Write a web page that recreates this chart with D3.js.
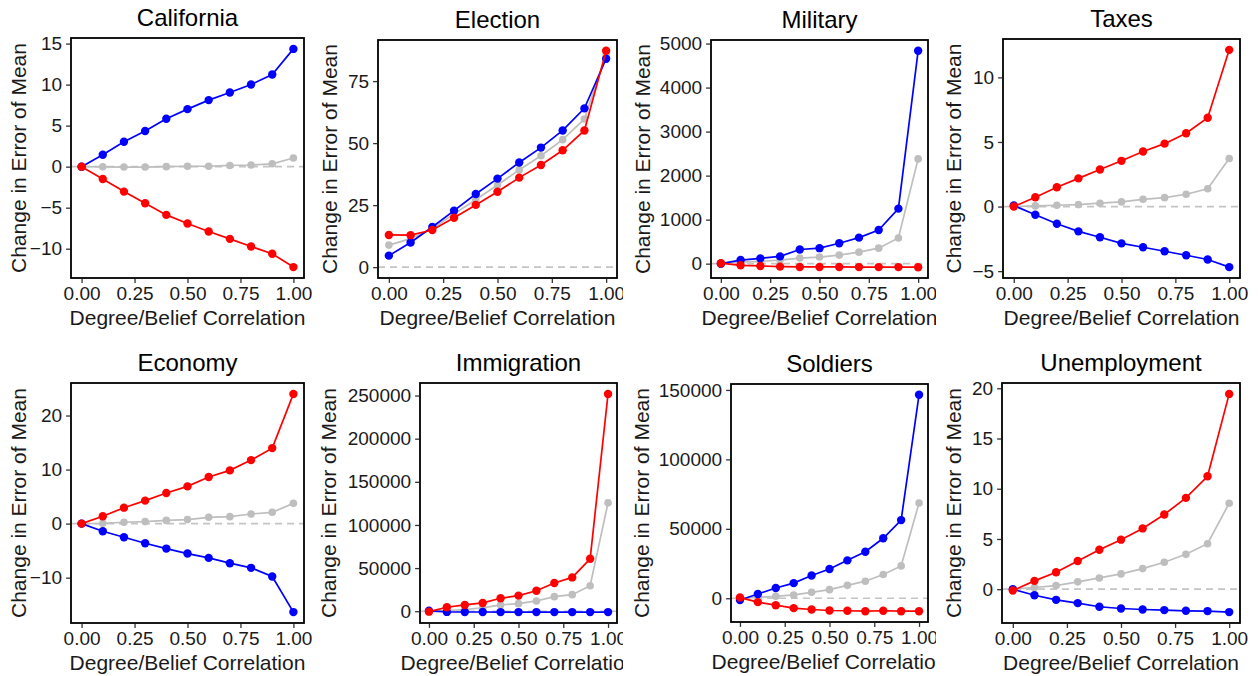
<!DOCTYPE html>
<html>
<head>
<meta charset="utf-8">
<script src="https://cdn.jsdelivr.net/npm/d3@7"></script>
<style>
  html, body { margin: 0; padding: 0; background: #fff; }
  svg { display: block; font-family: "Liberation Sans", Arial, sans-serif; }
</style>
</head>
<body>
<svg id="chart" width="1258" height="676"></svg>
<script>
// ---------- data ----------
const xValues = [0, 0.1, 0.2, 0.3, 0.4, 0.5, 0.6, 0.7, 0.8, 0.9, 1.0];
const xTicks = [0, 0.25, 0.5, 0.75, 1.0];
const topics = ["California", "Election", "Military", "Taxes", "Economy", "Immigration", "Soldiers", "Unemployment"];
const xTitle = "Degree/Belief Correlation";
const yTitle = "Change in Error of Mean";

const caBlue = [0, 1.46, 3.04, 4.34, 5.84, 7.01, 8.11, 9.04, 10.01, 11.23, 14.35];
const caRed  = [0, -1.5, -3.04, -4.46, -5.88, -6.93, -7.9, -8.8, -9.73, -10.62, -12.24];
const caGray = [0, -0.02, -0.05, -0.05, 0, 0.05, 0.05, 0.15, 0.2, 0.35, 1.05];
const caTicks = [-10, -5, 0, 5, 10, 15];

const elBlue = [4.65, 9.96, 16.2, 22.8, 29.5, 35.7, 42.2, 48.2, 55.1, 64.0, 84.0];
const elRed  = [13.0, 12.9, 15.0, 19.9, 25.1, 30.4, 36.1, 41.2, 47.1, 55.1, 87.2];
const elGray = [8.9, 11.5, 15.5, 21.5, 27.2, 33.1, 39.2, 44.9, 51.4, 59.7, 85.6];
const elTicks = [0, 25, 50, 75];

const miBlue = [0, 82, 120, 165, 322, 352, 464, 591, 763, 1250, 4835];
const miRed  = [10, -37, -52, -67, -75, -75, -75, -78, -78, -78, -80];
const miGray = [0, 37, 52, 82, 127, 150, 195, 262, 352, 584, 2380];
const miTicks = [0, 1000, 2000, 3000, 4000, 5000];

const taBlue = [0.08, -0.64, -1.33, -1.92, -2.38, -2.85, -3.15, -3.46, -3.77, -4.1, -4.69];
const taRed  = [0, 0.72, 1.49, 2.18, 2.87, 3.54, 4.26, 4.87, 5.67, 6.87, 12.13];
const taGray = [0, 0.05, 0.1, 0.15, 0.26, 0.36, 0.56, 0.69, 0.95, 1.38, 3.72];
const taTicks = [-5, 0, 5, 10];

const ecBlue = [0, -1.42, -2.52, -3.63, -4.62, -5.54, -6.34, -7.32, -8.18, -9.78, -16.37];
const ecRed  = [0, 1.35, 2.95, 4.25, 5.66, 6.89, 8.62, 9.85, 11.75, 13.97, 24.0];
const ecGray = [0, 0.06, 0.25, 0.37, 0.6, 0.74, 1.17, 1.29, 1.78, 2.09, 3.75];
const ecTicks = [-10, 0, 10, 20];

const imBlue = [500, -800, -900, -900, -1000, -1000, -1000, -1000, -1000, -1000, -1000];
const imRed  = [-500, 4600, 7300, 9600, 15000, 18100, 23800, 32700, 39200, 60800, 251900];
const imGray = [0, 800, 2000, 3800, 7300, 8800, 11900, 16900, 19200, 29600, 125800];
const imTicks = [0, 50000, 100000, 150000, 200000, 250000];

const soBlue = [-1200, 3100, 7400, 10900, 16400, 21100, 27300, 33500, 43200, 56300, 146500];
const soRed  = [500, -2800, -5000, -7100, -8100, -8800, -9000, -9300, -9000, -9300, -9300];
const soGray = [0, 700, 1400, 2400, 4300, 6200, 9300, 12300, 17100, 23300, 68600];
const soTicks = [0, 50000, 100000, 150000];

const unBlue = [0, -0.6, -1.06, -1.39, -1.75, -1.92, -2.02, -2.08, -2.15, -2.18, -2.28];
const unRed  = [-0.13, 0.83, 1.69, 2.81, 3.93, 4.93, 6.05, 7.44, 9.09, 11.24, 19.44];
const unGray = [0, 0.17, 0.36, 0.73, 1.12, 1.52, 2.05, 2.68, 3.47, 4.53, 8.56];
const unTicks = [0, 5, 10, 15, 20];

const blueSeries = [caBlue, elBlue, miBlue, taBlue, ecBlue, imBlue, soBlue, unBlue];
const redSeries  = [caRed, elRed, miRed, taRed, ecRed, imRed, soRed, unRed];
const graySeries = [caGray, elGray, miGray, taGray, ecGray, imGray, soGray, unGray];
const yTickSets  = [caTicks, elTicks, miTicks, taTicks, ecTicks, imTicks, soTicks, unTicks];

// ---------- layout ----------
const boxes = [
  {x0: 71,   x1: 304,  y0: 38,  y1: 278, yt: 26,  clip: [0, 312]},
  {x0: 378,  x1: 617,  y0: 40,  y1: 278, yt: 337, clip: [312, 623]},
  {x0: 711,  x1: 928,  y0: 40,  y1: 278, yt: 650, clip: [625, 936]},
  {x0: 1003, x1: 1240, y0: 39,  y1: 278, yt: 961, clip: [938, 1258]},
  {x0: 71,   x1: 304,  y0: 383, y1: 623, yt: 26,  clip: [0, 312]},
  {x0: 420,  x1: 617,  y0: 383, y1: 623, yt: 336, clip: [312, 623]},
  {x0: 731,  x1: 928,  y0: 384, y1: 622, yt: 649, clip: [625, 936]},
  {x0: 1002, x1: 1240, y0: 383, y1: 623, yt: 961, clip: [938, 1258]}
];
const colors = {blue: "#0000FF", red: "#FF0000", gray: "#BEBEBE"};
const textColor = "#1a1a1a";

const svg = d3.select("#chart");
const defs = svg.append("defs");

topics.forEach((topic, i) => {
  const b = boxes[i];
  const row = i < 4 ? 0 : 1;
  const clipId = "clip" + i;
  defs.append("clipPath").attr("id", clipId)
    .append("rect").attr("x", b.clip[0]).attr("y", row * 338)
    .attr("width", b.clip[1] - b.clip[0]).attr("height", 338);

  const g = svg.append("g").attr("clip-path", `url(#${clipId})`);

  const all = blueSeries[i].concat(redSeries[i], graySeries[i], [0]);
  const lo = d3.min(all), hi = d3.max(all), pad = (hi - lo) * 0.05;
  const x = d3.scaleLinear().domain([-0.05, 1.05]).range([b.x0, b.x1]);
  const y = d3.scaleLinear().domain([lo - pad, hi + pad]).range([b.y1, b.y0]);

  // zero reference line
  g.append("line")
    .attr("x1", b.x0).attr("x2", b.x1)
    .attr("y1", y(0)).attr("y2", y(0))
    .attr("stroke", "#C4C4C4").attr("stroke-width", 1.7)
    .attr("stroke-dasharray", "7,5");

  const line = d3.line().x((d, k) => x(xValues[k])).y(d => y(d));
  const series = [
    {vals: graySeries[i], color: colors.gray, r: 3.8},
    {vals: blueSeries[i], color: colors.blue, r: 4.2},
    {vals: redSeries[i],  color: colors.red,  r: 4.2}
  ];
  series.forEach(s => {
    g.append("path").datum(s.vals)
      .attr("d", line).attr("fill", "none")
      .attr("stroke", s.color).attr("stroke-width", 1.7);
    g.selectAll(null).data(s.vals).enter().append("circle")
      .attr("cx", (d, k) => x(xValues[k])).attr("cy", d => y(d))
      .attr("r", s.r).attr("fill", s.color);
  });

  // border
  g.append("rect")
    .attr("x", b.x0).attr("y", b.y0)
    .attr("width", b.x1 - b.x0).attr("height", b.y1 - b.y0)
    .attr("fill", "none").attr("stroke", "#000").attr("stroke-width", 1.8);

  // axes
  const xa = g.append("g").attr("transform", `translate(0,${b.y1 + 0.9})`)
    .call(d3.axisBottom(x).tickValues(xTicks).tickFormat(d3.format(".2f")).tickSize(4).tickPadding(4));
  const ya = g.append("g").attr("transform", `translate(${b.x0 - 0.9},0)`)
    .call(d3.axisLeft(y).tickValues(yTickSets[i]).tickFormat(d3.format("d")).tickSize(4).tickPadding(4));
  [xa, ya].forEach(a => {
    a.select(".domain").remove();
    a.selectAll(".tick line").attr("stroke", "#333").attr("stroke-width", 1.3);
    a.selectAll(".tick text").attr("fill", textColor)
      .style("font-size", "19px").style("font-family", "'Liberation Sans', Arial, sans-serif");
  });

  // titles
  g.append("text")
    .attr("x", (b.x0 + b.x1) / 2).attr("y", b.y0 - 12)
    .attr("text-anchor", "middle").attr("fill", "#000")
    .style("font-size", "24px").text(topic);
  g.append("text")
    .attr("x", (b.x0 + b.x1) / 2).attr("y", b.y1 + 47)
    .attr("text-anchor", "middle").attr("fill", textColor)
    .style("font-size", "21px").text(xTitle);
  g.append("text")
    .attr("transform", `translate(${b.yt},${(b.y0 + b.y1) / 2}) rotate(-90)`)
    .attr("text-anchor", "middle").attr("fill", textColor)
    .style("font-size", "21px").text(yTitle);
});
</script>
</body>
</html>
